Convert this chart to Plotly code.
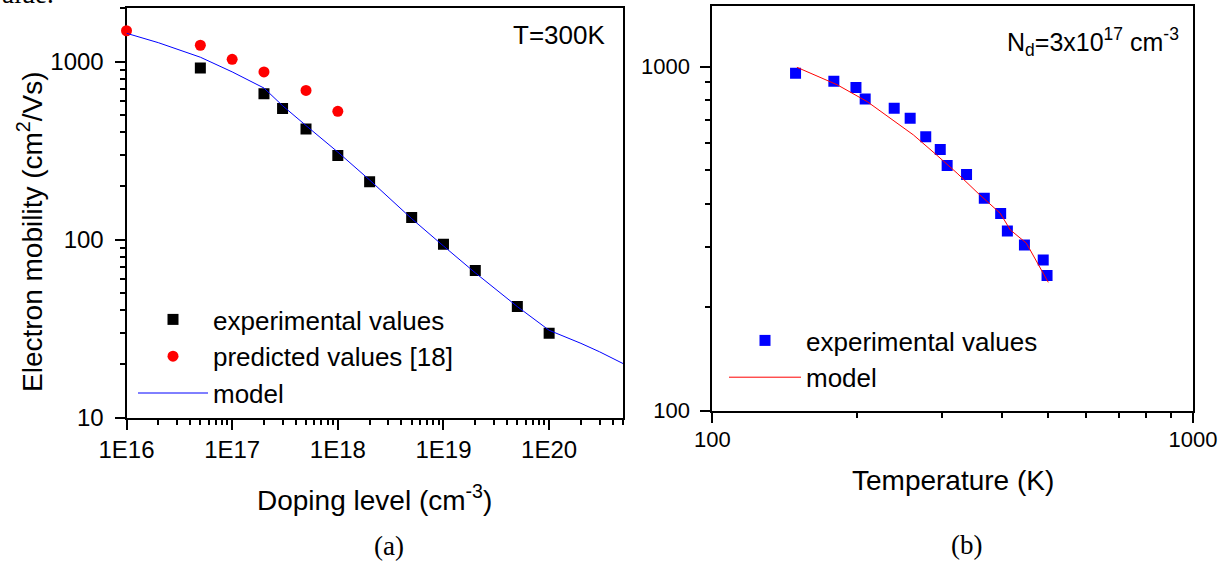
import plotly.graph_objects as go

# ---------------- data ----------------
# (a) mobility vs doping at T = 300 K
doping_exp = [5e16, 2e17, 3e17, 5e17, 1e18, 2e18, 5e18, 1e19, 2e19, 5e19, 1e20]
mob_exp = [920, 660, 545, 418, 297, 211, 133, 94, 67, 42, 29.7]

doping_pred = [1e16, 5e16, 1e17, 2e17, 5e17, 1e18]
mob_pred = [1490, 1235, 1030, 875, 688, 525]

doping_model = [1e16, 2e16, 5e16, 1e17, 2e17, 3e17, 5e17, 1e18, 2e18, 5e18,
                1e19, 2e19, 5e19, 1e20, 2e20, 3e20, 5e20]
mob_model = [1442, 1277, 1058, 875, 710, 565, 437, 310, 216, 131,
             92, 65, 42, 30.9, 26.1, 23.4, 20.1]

# (b) mobility vs temperature at Nd = 3e17 cm^-3
temp_exp = [149, 179, 199, 208, 239, 258, 278, 298, 308, 338, 368, 398, 411, 446, 488, 497]
mobT_exp = [957, 907, 869, 805, 757, 708, 625, 574, 516, 486, 414, 374, 333, 303, 274, 247]

temp_model = [150, 182, 210, 235, 262, 293, 323, 360, 397, 417, 450, 500]
mobT_model = [995, 885, 791, 708, 633, 553, 490, 424, 375, 335, 307, 236]

# tick labels
doping_ticks = [1e16, 1e17, 1e18, 1e19, 1e20]
doping_ticktext = ["1E16", "1E17", "1E18", "1E19", "1E20"]
mob_ticks_a = [10, 100, 1000]
mob_ticktext_a = ["10", "100", "1000"]
temp_ticks = [100, 1000]
temp_ticktext = ["100", "1000"]
mob_ticks_b = [100, 1000]
mob_ticktext_b = ["100", "1000"]

# ---------------- layout helpers ----------------
W, H = 1226, 562
FONT = "Liberation Sans, Arial, Helvetica, sans-serif"
SERIF = "Liberation Serif, Times New Roman, serif"


def px(x):
    return x / W


def py(y):
    return 1 - y / H


def minor_vals(lo_exp, hi_exp):
    return [float(m) * 10.0 ** e for e in range(lo_exp, hi_exp) for m in range(2, 10)]


fig = go.Figure()

# (a) traces
fig.add_trace(go.Scatter(
    x=doping_exp, y=mob_exp, mode="markers", name="experimental values",
    marker=dict(symbol="square", size=11, color="black", line=dict(width=0)),
    xaxis="x", yaxis="y", legend="legend"))
fig.add_trace(go.Scatter(
    x=doping_pred, y=mob_pred, mode="markers", name="predicted values [18]",
    marker=dict(symbol="circle", size=11, color="#FF0000", line=dict(width=0)),
    cliponaxis=False, xaxis="x", yaxis="y", legend="legend"))
fig.add_trace(go.Scatter(
    x=doping_model, y=mob_model, mode="lines", name="model",
    line=dict(color="#0000FF", width=1), xaxis="x", yaxis="y", legend="legend"))

# (b) traces
fig.add_trace(go.Scatter(
    x=temp_exp, y=mobT_exp, mode="markers", name="experimental values",
    marker=dict(symbol="square", size=11, color="#0000FF", line=dict(width=0)),
    xaxis="x2", yaxis="y2", legend="legend2"))
fig.add_trace(go.Scatter(
    x=temp_model, y=mobT_model, mode="lines", name="model",
    line=dict(color="#FF0000", width=1), xaxis="x2", yaxis="y2", legend="legend2"))

axis_common = dict(
    type="log", showgrid=False, zeroline=False, showline=True, linecolor="black",
    linewidth=2, mirror=True, ticks="outside", ticklen=10, tickwidth=1.5,
    tickcolor="black", tickmode="array", layer="below traces", automargin=False,
)

fig.update_layout(
    width=W, height=H, autosize=False,
    margin=dict(l=0, r=0, t=0, b=0, pad=0),
    paper_bgcolor="white", plot_bgcolor="white",
    font=dict(family=FONT, color="black"),
    xaxis=dict(axis_common, domain=[px(126.5), px(623)], range=[16, 20.699],
               tickvals=doping_ticks, ticktext=doping_ticktext,
               tickfont=dict(size=24), ticklabelstandoff=0, anchor="y",
               minor=dict(ticks="outside", ticklen=5, tickwidth=1.5, tickcolor="black",
                          tickmode="array", tickvals=minor_vals(16, 21), showgrid=False)),
    yaxis=dict(axis_common, domain=[py(417.5), py(8)], range=[1, 3.301],
               tickvals=mob_ticks_a, ticktext=mob_ticktext_a,
               tickfont=dict(size=24), ticklabelstandoff=6, anchor="x",
               minor=dict(ticks="outside", ticklen=5, tickwidth=1.5, tickcolor="black",
                          tickmode="array", tickvals=minor_vals(1, 4), showgrid=False)),
    xaxis2=dict(axis_common, domain=[px(712.3), px(1193)], range=[2, 3],
                tickvals=temp_ticks, ticktext=temp_ticktext,
                tickfont=dict(size=22), ticklabelstandoff=-2, anchor="y2",
                minor=dict(ticks="outside", ticklen=5, tickwidth=1.5, tickcolor="black",
                           tickmode="array", tickvals=minor_vals(2, 3), showgrid=False)),
    yaxis2=dict(axis_common, domain=[py(410.7), py(6)], range=[2, 3.176],
                tickvals=mob_ticks_b, ticktext=mob_ticktext_b,
                tickfont=dict(size=22), ticklabelstandoff=6, anchor="x2",
                minor=dict(ticks="outside", ticklen=5, tickwidth=1.5, tickcolor="black",
                           tickmode="array", tickvals=minor_vals(2, 4), showgrid=False)),
    legend=dict(x=px(133), y=py(296), xanchor="left", yanchor="top",
                bgcolor="rgba(0,0,0,0)", borderwidth=0, itemwidth=70,
                font=dict(family=FONT, size=26, color="black"), tracegroupgap=0),
    legend2=dict(x=px(724), y=py(317), xanchor="left", yanchor="top",
                 bgcolor="rgba(0,0,0,0)", borderwidth=0, itemwidth=72,
                 font=dict(family=FONT, size=26, color="black"), tracegroupgap=0),
    showlegend=True,
)

annotations = [
    dict(text="T=300K", x=px(606.7), y=py(35), xanchor="right", yanchor="middle",
         font=dict(size=26)),
    dict(text="N<sub>d</sub>=3x10<sup>17</sup> cm<sup>-3</sup>", x=px(1180.5), y=py(42),
         xanchor="right", yanchor="middle", font=dict(size=25)),
    dict(text="Electron mobility (cm<sup>2</sup>/Vs)", x=px(30), y=py(232),
         xanchor="center", yanchor="middle", textangle=-90, font=dict(size=28)),
    dict(text="Doping level (cm<sup>-3</sup>)", x=px(374.7), y=py(498),
         xanchor="center", yanchor="middle", font=dict(size=28)),
    dict(text="Temperature (K)", x=px(952.6), y=py(480),
         xanchor="center", yanchor="middle", font=dict(size=28)),
    dict(text="(a)", x=px(389), y=py(546), xanchor="center", yanchor="middle",
         font=dict(family=SERIF, size=27)),
    dict(text="(b)", x=px(966), y=py(545), xanchor="center", yanchor="middle",
         font=dict(family=SERIF, size=27)),
    dict(text="alue.", x=px(0), y=py(-6), xanchor="left", yanchor="middle",
         font=dict(family=SERIF, size=27)),
]
for a in annotations:
    a.update(xref="paper", yref="paper", showarrow=False)
    a.setdefault("font", {})
    a["font"].setdefault("family", FONT)
    a["font"].setdefault("color", "black")
fig.update_layout(annotations=annotations)

fig.write_html("out.html", config={"displayModeBar": False},
               post_script="document.body.style.margin='0px';")
